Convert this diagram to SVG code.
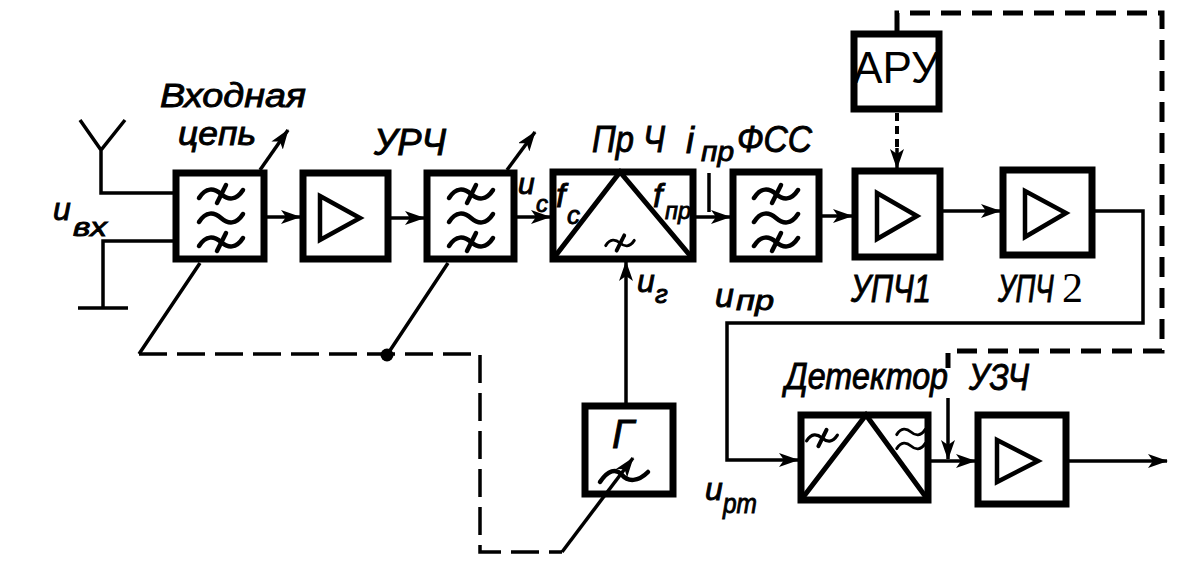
<svg xmlns="http://www.w3.org/2000/svg" width="1180" height="568" viewBox="0 0 1180 568">
<style>
.box{fill:#fff;stroke:#000;stroke-width:7}
.ln{fill:none;stroke:#000;stroke-width:3.5}
.gang{fill:none;stroke:#000;stroke-width:3.5;stroke-dasharray:28 10}
.agc{fill:none;stroke:#000;stroke-width:5;stroke-dasharray:20 11}
.agcs{fill:none;stroke:#000;stroke-width:4;stroke-dasharray:8 5}
.amp{fill:none;stroke:#000;stroke-width:4.5;stroke-linejoin:miter}
.tri{fill:none;stroke:#000;stroke-width:5}
.sym{fill:none;stroke:#000;stroke-width:4.5;stroke-linecap:round}
.t{font-family:"Liberation Sans","DejaVu Sans",sans-serif;font-style:italic;fill:#000;stroke:#000;stroke-width:0.9}
.aru{font-family:"Liberation Sans","DejaVu Sans",sans-serif;font-size:44px;fill:#000}
.serif{font-family:"Liberation Serif","DejaVu Serif",serif;font-style:normal;stroke-width:0}
</style>
<defs>
<marker id="ah" viewBox="0 0 20 14" refX="19" refY="7" markerWidth="20" markerHeight="14" markerUnits="userSpaceOnUse" orient="auto">
<path d="M0,0 L20,7 L0,14 L5,7 z" fill="#000"/>
</marker>
<path id="tl" d="M-22,4 C-15,-7 -7,-6 0,0 S15,7 22,-4"/>
<path id="tk" d="M-4,9 L5,-9"/>
<g id="flt" class="sym">
<use href="#tl" y="-24"/><use href="#tk" y="-24"/>
<use href="#tl"/>
<use href="#tl" y="24"/><use href="#tk" y="24"/>
</g>
</defs>
<rect width="1180" height="568" fill="#fff"/>

<g id="input-circuit">
<rect class="box" x="176" y="173" width="88" height="86"/>
<use href="#flt" x="221" y="218"/>
<text class="t" x="160" y="107" font-size="34" textLength="146" lengthAdjust="spacingAndGlyphs">Входная</text>
<text class="t" x="178" y="145" font-size="34" textLength="78" lengthAdjust="spacingAndGlyphs">цепь</text>
<text class="t" x="53" y="220" font-size="32">u</text>
<text class="t" x="73" y="236" font-size="26" textLength="34" lengthAdjust="spacingAndGlyphs">вх</text>
</g>

<g id="urch">
<rect class="box" x="303" y="173" width="85" height="86"/>
<path class="amp" d="M320,196 L360,218 L320,240 Z"/>
<text class="t" x="374" y="155" font-size="36" textLength="72" lengthAdjust="spacingAndGlyphs">УРЧ</text>
</g>

<g id="rf-filter">
<rect class="box" x="427" y="173" width="87" height="86"/>
<use href="#flt" x="471" y="218"/>
<text class="t" x="518" y="194" font-size="30">u</text>
<text class="t" x="536" y="212" font-size="24">c</text>
</g>

<g id="mixer">
<rect class="box" x="553" y="172" width="140" height="87"/>
<path class="tri" d="M553,259 L620,172 L693,259"/>
<text class="t" x="556" y="207" font-size="34">f</text>
<text class="t" x="567" y="224" font-size="26">c</text>
<text class="t" x="653" y="207" font-size="34">f</text>
<text class="t" x="665" y="219" font-size="24" textLength="26" lengthAdjust="spacingAndGlyphs">пр</text>
<g class="sym"><use href="#tl" transform="translate(620,243) scale(0.65)"/><use href="#tk" transform="translate(620,243) scale(0.85)"/></g>
<text class="t" x="592" y="152" font-size="36" textLength="73" lengthAdjust="spacingAndGlyphs">Пр Ч</text>
<text class="t" x="686" y="153" font-size="36">i</text>
<text class="t" x="701" y="161" font-size="28" textLength="33" lengthAdjust="spacingAndGlyphs">пр</text>
<text class="t" x="637" y="292" font-size="32">u</text>
<text class="t" x="655" y="303" font-size="26">г</text>
<text class="t" x="715" y="307" font-size="34">u</text>
<text class="t" x="736" y="310" font-size="28" textLength="38" lengthAdjust="spacingAndGlyphs">пр</text>
</g>

<g id="fss">
<rect class="box" x="733" y="172" width="86" height="87"/>
<use href="#flt" x="776" y="218"/>
<text class="t" x="737" y="152" font-size="36" textLength="75" lengthAdjust="spacingAndGlyphs">ФСС</text>
</g>

<g id="aru">
<rect class="box" x="854" y="34" width="85" height="75"/>
<text class="aru" x="853" y="83" textLength="86" lengthAdjust="spacingAndGlyphs">АРУ</text>
</g>

<g id="upch1">
<rect class="box" x="855" y="171" width="85" height="86"/>
<path class="amp" d="M877,193 L917,216 L877,239 Z"/>
<text class="t" x="851" y="302" font-size="38" textLength="80" lengthAdjust="spacingAndGlyphs">УПЧ1</text>
</g>

<g id="upch2">
<rect class="box" x="1003" y="170" width="89" height="85"/>
<path class="amp" d="M1025,191 L1066,213 L1025,237 Z"/>
<text class="t" transform="translate(998,302) scale(0.72,1)" font-size="38">УПЧ</text>
<text class="t serif" x="1062" y="302" font-size="42">2</text>
</g>

<g id="detector">
<rect class="box" x="801" y="415" width="127" height="85"/>
<path class="tri" d="M801,500 L866,415 L928,500"/>
<g class="sym"><use href="#tl" transform="translate(822,438) scale(0.7)"/><use href="#tk" transform="translate(822,438) scale(0.9)"/></g>
<g class="sym"><use href="#tl" transform="translate(911,432) scale(0.65)"/><use href="#tl" transform="translate(911,446) scale(0.65)"/></g>
<text class="t" x="785" y="389" font-size="36" textLength="163" lengthAdjust="spacingAndGlyphs">Детектор</text>
<text class="t" x="705" y="500" font-size="32">u</text>
<text class="t" x="723" y="513" font-size="28" textLength="34" lengthAdjust="spacingAndGlyphs">рт</text>
</g>

<g id="uzch">
<rect class="box" x="978" y="415" width="88" height="89"/>
<path class="amp" d="M997,440 L1038,461 L997,482 Z"/>
<text class="t" x="969" y="390" font-size="36" textLength="60" lengthAdjust="spacingAndGlyphs">УЗЧ</text>
</g>

<g id="generator">
<rect class="box" x="585" y="406" width="88" height="88"/>
<text class="t" x="612" y="448" font-size="40">Г</text>
<path class="sym" d="M600,482 C608,470 616,468 622,475 S638,482 648,472"/>
</g>

<g id="connectors">
<path class="ln" d="M80,120 L101,150 L125,120 M101,150 L101,193 L173,193"/>
<path class="ln" d="M173,241 L103,241 L103,308 M78,308 L128,308"/>
<path class="ln" d="M267,217 L300,217" marker-end="url(#ah)"/>
<path class="ln" d="M391,218 L424,218" marker-end="url(#ah)"/>
<path class="ln" d="M517,217 L550,217" marker-end="url(#ah)"/>
<path class="ln" d="M696,217 L730,217" marker-end="url(#ah)"/>
<path class="ln" d="M709,173 L709,212"/>
<path class="ln" d="M822,216 L852,216" marker-end="url(#ah)"/>
<path class="ln" d="M943,211 L1000,211" marker-end="url(#ah)"/>
<path class="ln" d="M1095,211 L1143,211 L1143,323 L727,323 L727,460 L798,460" marker-end="url(#ah)"/>
<path class="ln" d="M931,461 L975,461" marker-end="url(#ah)"/>
<path class="ln" d="M1069,461 L1167,461" marker-end="url(#ah)"/>
<path class="ln" d="M626,403 L626,262" marker-end="url(#ah)"/>
<path class="ln" d="M260,170 L288,130" marker-end="url(#ah)"/>
<path class="ln" d="M507,170 L535,132" marker-end="url(#ah)"/>
<path class="ln" d="M200,263 L139,354 M448,263 L387,355"/>
<path class="gang" d="M139,354 L480,354 L480,552 L562,552"/>
<path class="ln" d="M562,552 L633,458" marker-end="url(#ah)"/>
<circle cx="387" cy="355" r="6.5" fill="#000"/>
<path class="agcs" d="M897,113 L897,150"/>
<path class="ln" d="M897,148 L897,168" marker-end="url(#ah)"/>
<path class="agc" d="M897,31 L897,13 L1162,13 L1162,351 L948,351 L948,368"/>
<path class="ln" d="M948,398 L948,459" marker-end="url(#ah)"/>
</g>
</svg>
